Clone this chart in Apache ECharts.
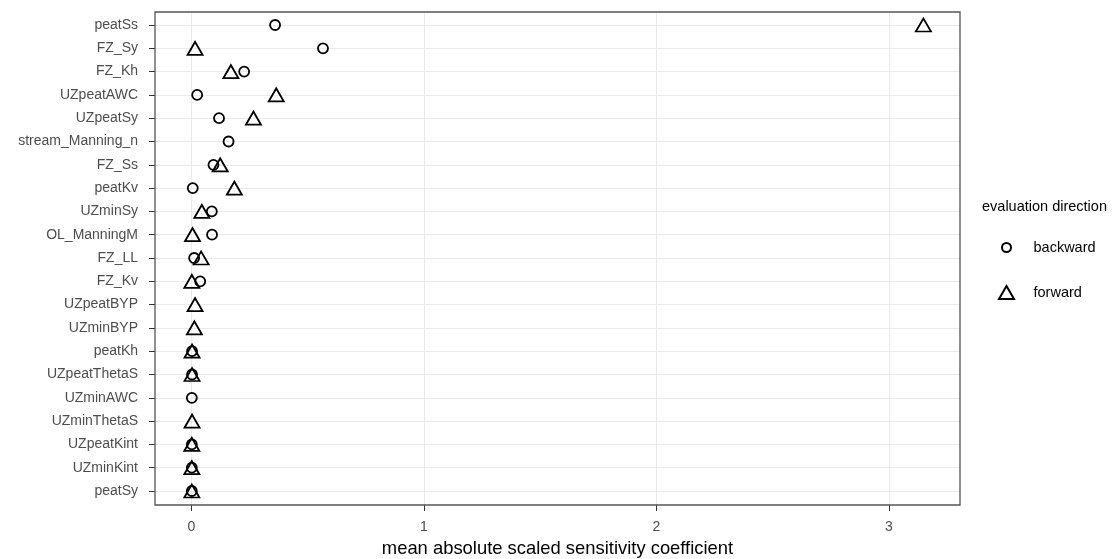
<!DOCTYPE html>
<html>
<head>
<meta charset="utf-8">
<style>html,body{margin:0;padding:0;background:#fff;}#chart{width:1120px;height:559px;}</style>
<script src="https://cdn.jsdelivr.net/npm/echarts@6/dist/echarts.min.js"></script>
</head>
<body>
<div id="chart"></div>
<script>
// Parameters listed top to bottom
const categories = ['peatSs','FZ_Sy','FZ_Kh','UZpeatAWC','UZpeatSy','stream_Manning_n','FZ_Ss','peatKv','UZminSy','OL_ManningM','FZ_LL','FZ_Kv','UZpeatBYP','UZminBYP','peatKh','UZpeatThetaS','UZminAWC','UZminThetaS','UZpeatKint','UZminKint','peatSy'];
const backward = [0.359,0.565,0.226,0.024,0.118,0.159,0.094,0.005,0.087,0.088,0.011,0.037,null,null,0.002,0.002,0.001,null,0.001,0.001,0.001];
const forward  = [3.147,0.015,0.169,0.364,0.266,null,0.123,0.184,0.044,0.004,0.041,0.001,0.015,0.012,0.002,0.002,null,0.002,0.001,0.001,0.001];
const xTicks = [0, 1, 2, 3];
const seriesNames = ['backward', 'forward'];
const legendTitle = 'evaluation direction';
const xTitle = 'mean absolute scaled sensitivity coefficient';

const FONT = "'Liberation Sans', Arial, sans-serif";
function toPoints(arr) {
  const out = [];
  arr.forEach((v, i) => { if (v !== null) out.push([v, i]); });
  return out;
}
const xMin = xTicks[0], xMax = xTicks[xTicks.length - 1];
const dataMax = Math.max(...forward.filter(v => v !== null), ...backward.filter(v => v !== null));
const pad = 0.05 * (dataMax - 0);

const chart = echarts.init(document.getElementById('chart'), null, {renderer: 'canvas'});
chart.setOption({
  animation: false,
  backgroundColor: '#ffffff',
  textStyle: {fontFamily: FONT},
  title: {
    text: legendTitle, left: 982, top: 199, padding: 0,
    textStyle: {fontFamily: FONT, fontSize: 14.5, fontWeight: 'normal', color: '#000'}
  },
  legend: [
    {
      data: [seriesNames[0]], orient: 'vertical', left: 1001, top: 240, padding: 0,
      itemWidth: 9, itemHeight: 9,
      textStyle: {fontFamily: FONT, fontSize: 14.5, color: '#000', padding: [0, 0, 0, 17.5]}
    },
    {
      data: [seriesNames[1]], orient: 'vertical', left: 998, top: 285, padding: 0,
      itemWidth: 15, itemHeight: 13,
      textStyle: {fontFamily: FONT, fontSize: 14.5, color: '#000', padding: [0, 0, 0, 14.5]}
    }
  ],
  grid: [
    {left: 191.5, right: 231, top: 12, bottom: 54, containLabel: false, outerBoundsMode: 'none'},
    {left: 155, right: 160, top: 25, bottom: 68, containLabel: false, outerBoundsMode: 'none'}
  ],
  xAxis: [
    {
      type: 'value', gridIndex: 0, min: xMin, max: xMax, interval: 1,
      axisLine: {show: false},
      axisTick: {show: true, length: 6, lineStyle: {color: '#333', width: 1}},
      axisLabel: {fontFamily: FONT, fontSize: 14, color: '#4d4d4d', margin: 15},
      splitLine: {show: true, lineStyle: {color: '#ebebeb', width: 1}}
    },
    {
      type: 'value', gridIndex: 1, min: xMin - pad, max: dataMax + pad,
      axisLine: {show: false, onZero: false}, axisTick: {show: false}, axisLabel: {show: false},
      splitLine: {show: false},
      name: xTitle, nameLocation: 'middle', nameGap: 49,
      nameTextStyle: {fontFamily: FONT, fontSize: 18.4, color: '#000'}
    }
  ],
  yAxis: [
    {type: 'value', gridIndex: 0, min: 0, max: 1, show: false},
    {
      type: 'value', gridIndex: 1, min: 0, max: categories.length - 1, interval: 1, inverse: true,
      axisLine: {show: false, onZero: false},
      axisTick: {show: true, length: 6, lineStyle: {color: '#333', width: 1}},
      axisLabel: {
        fontFamily: FONT, fontSize: 14, color: '#4d4d4d', margin: 17,
        formatter: v => categories[Math.round(v)] || ''
      },
      splitLine: {show: true, lineStyle: {color: '#ebebeb', width: 1}}
    }
  ],
  graphic: [{
    type: 'rect', z: 100, silent: true,
    shape: {x: 155, y: 12, width: 805, height: 493},
    style: {fill: 'none', stroke: '#555', lineWidth: 1.3}
  }],
  series: [
    {
      name: seriesNames[0], type: 'scatter', xAxisIndex: 1, yAxisIndex: 1, clip: false,
      symbol: 'circle', symbolSize: 10,
      itemStyle: {color: 'rgba(0,0,0,0)', borderColor: '#000', borderWidth: 1.8, opacity: 1},
      data: toPoints(backward)
    },
    {
      name: seriesNames[1], type: 'scatter', xAxisIndex: 1, yAxisIndex: 1, clip: false,
      symbol: 'triangle', symbolSize: [15, 13],
      itemStyle: {color: 'rgba(0,0,0,0)', borderColor: '#000', borderWidth: 1.8, opacity: 1},
      data: toPoints(forward)
    }
  ]
});
</script>
</body>
</html>
